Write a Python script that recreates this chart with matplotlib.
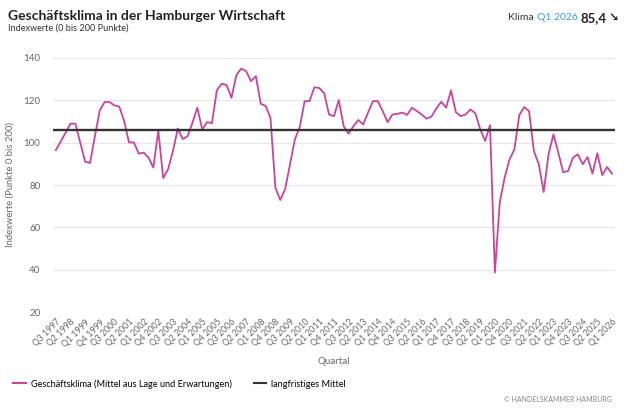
import matplotlib
matplotlib.use("Agg")
import matplotlib.pyplot as plt
import numpy as np

# Quarterly climate index, Q3 1997 .. Q1 2026
klima = [96.5, 100.6, 104.7, 109.0, 109.0, 100.0, 91.0, 90.4, 103.0, 115.2,
         119.2, 119.2, 117.6, 117.0, 110.2, 100.1, 100.1, 94.8, 95.3, 92.9,
         88.2, 105.8, 83.3, 87.4, 96.0, 106.7, 101.7, 103.0, 109.4, 116.5,
         106.3, 109.7, 109.2, 124.7, 127.8, 127.2, 121.2, 131.9, 135.0, 133.8,
         129.0, 131.4, 118.4, 117.3, 111.8, 78.8, 72.9, 78.0, 89.8, 101.6,
         107.4, 119.6, 119.6, 126.2, 125.8, 123.4, 113.3, 112.5, 120.1, 107.8,
         104.2, 107.8, 110.7, 108.6, 114.2, 119.6, 119.6, 114.9, 109.7, 113.3,
         113.6, 114.2, 113.1, 116.5, 114.9, 113.3, 111.3, 112.3, 116.2, 119.3,
         116.5, 124.7, 114.4, 112.5, 113.3, 115.7, 113.8, 106.3, 100.8, 108.3,
         38.7, 71.7, 83.5, 92.1, 96.8, 113.0, 116.8, 114.9, 96.0, 89.8,
         76.7, 94.5, 103.9, 95.3, 86.0, 86.6, 92.9, 94.5, 89.8, 93.2,
         85.4, 95.0, 84.7, 88.5, 85.4]
mittel = 105.8

start_year, start_q = 1997, 3
quartale = []
for k in range(len(klima)):
    q = (start_q - 1 + k) % 4 + 1
    y = start_year + (start_q - 1 + k) // 4
    quartale.append(f"Q{q} {y}")

pink = "#c4479c"
grey = "#666666"

fig = plt.figure(figsize=(6.3, 4.2), dpi=100)
ax = fig.add_axes([0.084, 0.257, 0.892, 0.605])

x = np.arange(len(klima))
ax.plot(x, klima, color=pink, lw=1.3, zorder=3, label="Geschäftsklima (Mittel aus Lage und Erwartungen)")
ax.axhline(mittel, color="#333333", lw=1.7, zorder=4, label="langfristiges Mittel")

ax.set_ylim(20, 140)
ax.set_xlim(-0.6, len(klima) - 0.4)
ax.set_yticks(range(20, 141, 20))
ax.grid(axis="y", color="#e6e6e6", lw=0.8)
ax.set_axisbelow(True)
for s in ax.spines.values():
    s.set_visible(False)

ticks = x[::3]
ax.set_xticks(ticks)
ax.set_xticklabels([quartale[i] for i in ticks], rotation=45, ha="right",
                   rotation_mode="anchor", fontsize=6.3, color=grey, family="Lato")
ax.tick_params(axis="x", length=0, pad=4)
ax.tick_params(axis="y", length=0, labelsize=7, labelcolor=grey, pad=9)
for t in ax.get_yticklabels():
    t.set_family("Lato")

ax.set_ylabel("Indexwerte (Punkte 0 bis 200)", fontsize=6.8, color=grey, family="Lato")
ax.yaxis.set_label_coords(-0.068, 0.5)
ax.set_xlabel("Quartal", fontsize=7, color=grey, family="Lato", labelpad=6)

fig.text(0.013, 0.963, "Geschäftsklima in der Hamburger Wirtschaft", fontsize=10,
         fontweight="bold", family="Lato", color="#222222", va="center")
fig.text(0.013, 0.932, "Indexwerte (0 bis 200 Punkte)", fontsize=6.6, family="Lato",
         color="#333333", va="center")

fig.text(0.806, 0.958, "Klima", fontsize=7.5, family="Lato", color="#333333", va="center")
fig.text(0.852, 0.958, "Q1 2026", fontsize=7.5, family="Lato", color="#3a9ad9", va="center")
fig.text(0.921, 0.958, "85,4", fontsize=9.5, fontweight="bold", family="Lato",
         color="#222222", va="center")
fig.text(0.965, 0.958, "\u2198", fontsize=8.5, fontweight="bold", family="DejaVu Sans",
         color="#222222", va="center")

leg = fig.legend(loc="center left", bbox_to_anchor=(0.008, 0.086), ncol=2, frameon=False,
                 handlelength=1.4, handletextpad=0.5, columnspacing=2.4,
                 prop={"family": "Lato", "size": 6.6})
for line in leg.get_lines():
    line.set_linewidth(1.5)

fig.text(0.972, 0.05, "© HANDELSKAMMER HAMBURG", fontsize=5, family="Lato",
         color="#888888", ha="right", va="center")

fig.savefig("out.png", dpi=100)
